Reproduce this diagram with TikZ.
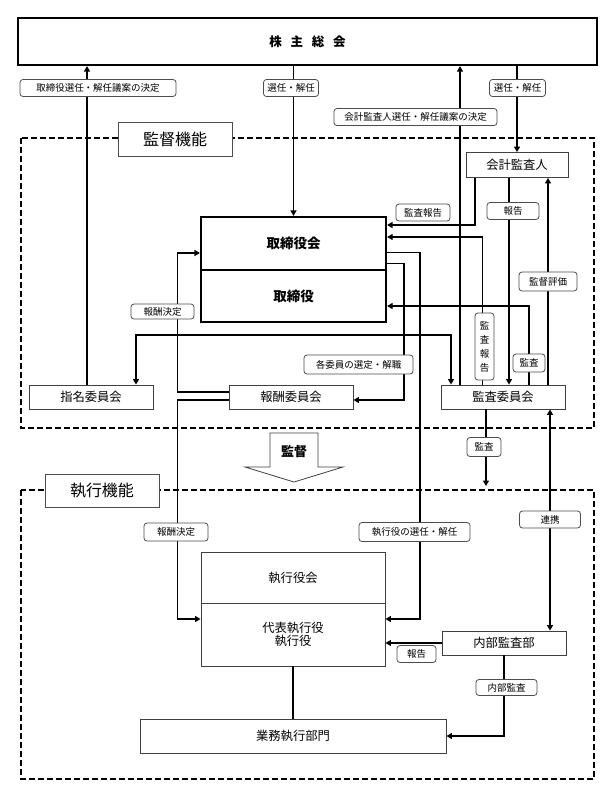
\documentclass[tikz,border=0pt]{standalone}
\usepackage{fontspec}
\setmainfont{Noto Sans CJK JP}
\usetikzlibrary{arrows.meta,positioning,calc}

\begin{document}
\begin{tikzpicture}[x=1pt, y=-1pt, >={Triangle[length=5.5pt,width=6pt]},
  unit/.style={rectangle, draw=black!75, line width=0.9pt, fill=white, inner sep=0pt,
               font=\fontsize{12.3}{13.5}\selectfont},
  bod/.style={rectangle, draw=black, line width=2.2pt, fill=white, inner sep=0pt,
              font=\fontsize{13.5}{16}\selectfont\bfseries},
  tag/.style={rectangle, rounded corners=3pt, draw=black!70, line width=0.8pt, fill=white,
              inner sep=0pt, minimum height=17pt, font=\fontsize{9.5}{11}\selectfont},
  tab/.style={rectangle, draw=black!70, line width=0.9pt, fill=white, inner sep=0pt,
              font=\fontsize{16}{18}\selectfont},
  frame/.style={line width=1.5pt, dash pattern=on 6pt off 3pt},
  heavy/.style={line width=1.8pt},
  light/.style={line width=1.1pt}]
  \useasboundingbox (0,0) rectangle (613,796);
  % the two function areas
  \draw[frame] (21,138) rectangle (594,428);
  \draw[frame] (21,490) rectangle (594,779);
  \node[tab, minimum width=114pt, minimum height=34pt] (supv) at (175,139) {監督機能};
  \node[tab, minimum width=114pt, minimum height=33pt] (exec) at (102,490.5) {執行機能};

  \node[bod, minimum width=579pt, minimum height=47pt, font=\fontsize{12.5}{14}\selectfont\bfseries]
    (meeting) at (307.5,41.5) {株\hspace{0.7em}主\hspace{0.7em}総\hspace{0.7em}会};
  \node[bod, minimum width=185pt, minimum height=53pt] (board) at (293.5,243.5) {取締役会};
  \node[bod, minimum width=185pt, minimum height=52pt] (dirs) at (293.5,296) {取締役};
  \node[unit, minimum width=102pt, minimum height=25pt] (audit) at (517,165) {会計監査人};
  \node[unit, minimum width=124pt, minimum height=24pt] (nomc) at (91,397) {指名委員会};
  \node[unit, minimum width=124pt, minimum height=24pt] (remc) at (291,397) {報酬委員会};
  \node[unit, minimum width=124pt, minimum height=24pt] (audc) at (503,397) {監査委員会};
  \node[unit, minimum width=184pt, minimum height=51pt] (excm) at (293,577.5) {執行役会};
  \node[unit, minimum width=184pt, minimum height=63pt, align=center] (exof) at (293,634.5) {代表執行役\\執行役};
  \node[unit, minimum width=124pt, minimum height=24pt] (inaud) at (504,643) {内部監査部};
  \node[unit, minimum width=306pt, minimum height=34pt] (ops) at (293,736) {業務執行部門};

  % supervision arrow
  \draw[black!75, line width=0.8pt, fill=white] (270,433) -- (318,433) -- (318,467) -- (343,467)
    -- (294,482) -- (245,467) -- (270,467) -- cycle;
  \node[font=\fontsize{13}{15}\selectfont\bfseries] (supvarrow) at (294,452) {監督};

  % general meeting
  \draw[heavy,->] ([xshift=-4pt]nomc.north) -- ([xshift=-4pt]nomc.north |- meeting.south);
  \draw[heavy,->] (meeting.south -| board.north) -- (board.north);
  \draw[heavy,->] ([xshift=-43pt]audc.north) -- ([xshift=-43pt]audc.north |- meeting.south);
  \draw[heavy,->] (meeting.south -| audit.north) -- (audit.north);

  % audit lines
  \draw[heavy,->] ([xshift=-42pt]audit.south) |- ([yshift=18.5pt]board.east);
  \draw[light,->] ([xshift=-20.5pt]audc.north) |- ([yshift=6.5pt]board.east);
  \draw[light,->] ([xshift=26pt]audc.north) |- ([yshift=-10pt]dirs.east);
  \draw[light,->] ([xshift=-8pt]audit.south) -- ([xshift=-8pt]audit.south |- audc.north);
  \draw[heavy,->] ([xshift=45pt]audc.north) -- ([xshift=45pt]audc.north |- audit.south);

  % board to committees and officers
  \draw[heavy,->] ([yshift=-9pt]board.east) -- ++(33,0) |- ([yshift=15.5pt]exof.east);
  \draw[heavy,->] ([yshift=-20pt]board.east) -- ++(17,0) |- ([yshift=-3pt]remc.east);
  \coordinate (sel) at (403,335);
  \draw[heavy,->] (sel) -| ([xshift=45pt]nomc.north);
  \draw[heavy,->] (sel) -| ([xshift=-52pt]audc.north);

  % remuneration
  \draw[heavy,->] ([yshift=5pt]remc.west) -- ++(-51,0) |- ([yshift=-9.5pt]board.west);
  \draw[heavy,->] ([yshift=-3pt]remc.west) -- ++(-51,0) |- ([yshift=15.5pt]exof.west);

  % execution side
  \coordinate (auddown) at (486,486);
  \draw[heavy,->] (audc.south -| auddown) -- (auddown);
  \draw[heavy,<->] ([xshift=47pt]audc.south) -- ([xshift=47pt]audc.south |- inaud.north);
  \draw[light,->] (inaud.west) -- (inaud.west -| exof.east);
  \draw[heavy,->] (inaud.south) |- (ops.east);
  \draw[light] (exof.south) -- (ops.north);

  % labels
  \node[tag, minimum width=156pt] (t1) at (98,88) {取締役選任・解任議案の決定};
  \node[tag, minimum width=55pt] (t2) at (291,88) {選任・解任};
  \node[tag, minimum width=56pt] (t3) at (517.5,88) {選任・解任};
  \node[tag, minimum width=163pt] (t4) at (415.5,117) {会計監査人選任・解任議案の決定};
  \node[tag, minimum width=54pt] (t5) at (423,212.5) {監査報告};
  \node[tag, minimum width=52pt] (t6) at (513,211) {報告};
  \node[tag, minimum width=58pt, minimum height=19pt] (t7) at (548,281.5) {監督評価};
  \node[tag, minimum width=63pt, minimum height=15pt] (t8) at (162.5,311.5) {報酬決定};
  \node[tag, minimum width=19pt, minimum height=67pt, align=center,
        font=\fontsize{9.5}{14}\selectfont] (t9) at (484.5,346.5) {監\\査\\報\\告};
  \node[tag, minimum width=32pt, minimum height=18pt] (t10) at (529,363) {監査};
  \node[tag, minimum width=109pt, minimum height=19pt] (t11) at (358.5,364.5) {各委員の選定・解職};
  \node[tag, minimum width=34pt, minimum height=19pt] (t12) at (484,447) {監査};
  \node[tag, minimum width=61pt] (t13) at (550,519.5) {連携};
  \node[tag, minimum width=64pt, minimum height=18pt] (t14) at (176,532) {報酬決定};
  \node[tag, minimum width=111pt, minimum height=19pt] (t15) at (414.5,532) {執行役の選任・解任};
  \node[tag, minimum width=39pt] (t16) at (416.5,654) {報告};
  \node[tag, minimum width=61pt, minimum height=16pt] (t17) at (506.5,687.5) {内部監査};
\end{tikzpicture}
\end{document}
